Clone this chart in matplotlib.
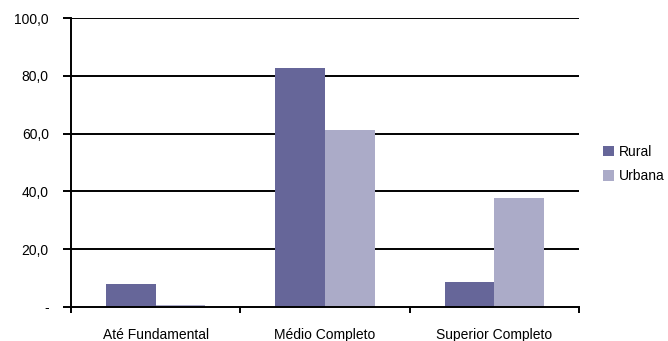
import matplotlib.pyplot as plt
import numpy as np

plt.rcParams['font.family'] = ['Liberation Sans', 'DejaVu Sans']

categorias = ['Até Fundamental', 'Médio Completo', 'Superior Completo']
rural = [8.0, 82.7, 8.6]
urbana = [0.7, 61.2, 37.7]
yticks = [0, 20, 40, 60, 80, 100]
ylabels = ['-', '20,0', '40,0', '60,0', '80,0', '100,0']

fig = plt.figure(figsize=(6.68, 3.41), dpi=100)
ax = fig.add_axes([71 / 668, 1 - 307 / 341, (579 - 71) / 668, (307 - 18) / 341])

x = np.arange(len(categorias))
w = 0.293
ax.bar(x - w / 2, rural, w, color='#666699', label='Rural', zorder=3)
ax.bar(x + w / 2, urbana, w, color='#ababc8', label='Urbana', zorder=3)

# linhas de grade pretas
for v in yticks[1:]:
    ax.axhline(v, color='black', lw=1.4, zorder=2)

ax.set_xlim(-0.5, 2.5)
ax.set_ylim(0, 100)
ax.set_yticks(yticks)
ax.set_yticklabels(ylabels, fontsize=10)
ax.tick_params(axis='y', length=6, width=1.4, pad=10)

ax.set_xticks([-0.5, 0.5, 1.5, 2.5])
ax.set_xticklabels([])
ax.set_xticks(x, minor=True)
ax.set_xticklabels(categorias, minor=True, fontsize=10)
ax.tick_params(axis='x', which='major', length=4, width=1.4)
ax.tick_params(axis='x', which='minor', length=0, pad=15)

for s in ['top', 'right']:
    ax.spines[s].set_visible(False)
ax.spines['left'].set_linewidth(1.4)
ax.spines['bottom'].set_linewidth(1.4)
ax.spines['bottom'].set_zorder(4)

ax.legend(loc='center left', bbox_to_anchor=(1.022, 0.495), frameon=False,
          fontsize=10, handlelength=0.8, handleheight=0.8, handletextpad=0.35,
          labelspacing=0.75)

fig.savefig('out.png', dpi=100)
